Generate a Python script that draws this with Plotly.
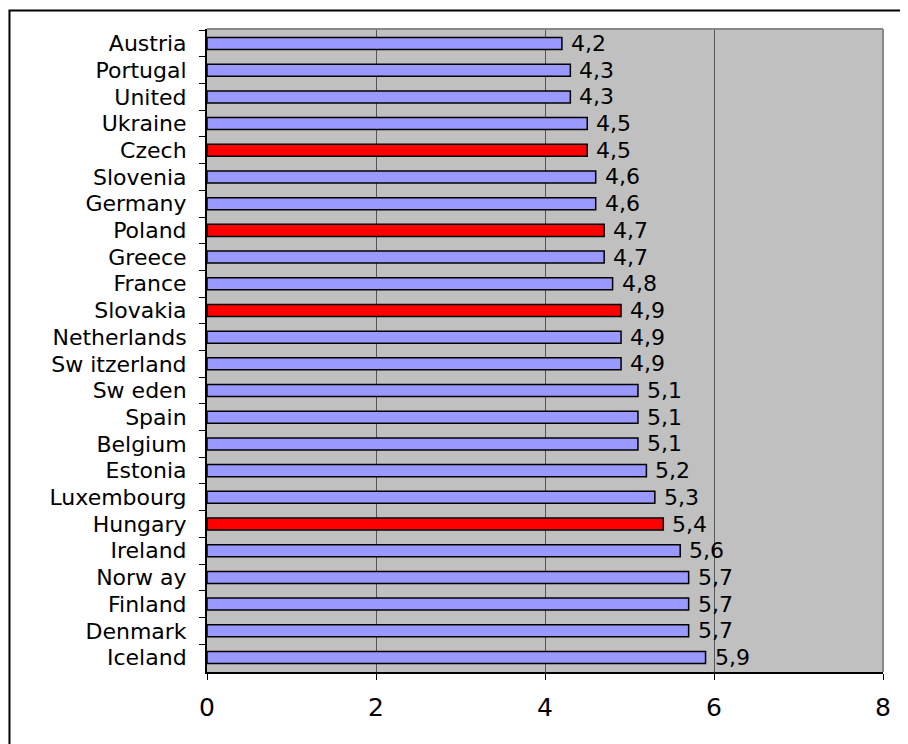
import plotly.graph_objects as go

countries = ["Austria", "Portugal", "United", "Ukraine", "Czech", "Slovenia", "Germany",
             "Poland", "Greece", "France", "Slovakia", "Netherlands", "Sw itzerland",
             "Sw eden", "Spain", "Belgium", "Estonia", "Luxembourg", "Hungary", "Ireland",
             "Norw ay", "Finland", "Denmark", "Iceland"]
values = [4.2, 4.3, 4.3, 4.5, 4.5, 4.6, 4.6, 4.7, 4.7, 4.8, 4.9, 4.9, 4.9,
          5.1, 5.1, 5.1, 5.2, 5.3, 5.4, 5.6, 5.7, 5.7, 5.7, 5.9]
highlighted = ["Czech", "Poland", "Slovakia", "Hungary"]
x_ticks = [0, 2, 4, 6, 8]

FONT = "DejaVu Sans"
colors = ["#FF0000" if c in highlighted else "#9999FF" for c in countries]
labels = [f"{v:.1f}".replace(".", ",") for v in values]

fig = go.Figure()
fig.add_trace(go.Bar(
    y=countries,
    x=values,
    orientation="h",
    width=0.45,
    marker=dict(color=colors, line=dict(color="black", width=1.5)),
    showlegend=False,
    hoverinfo="skip",
))

# valori a destra delle barre
for c, v, t in zip(countries, values, labels):
    fig.add_annotation(x=v, y=c, text=t, showarrow=False, xanchor="left",
                       xshift=7, font=dict(family=FONT, size=22, color="black"))

# bordo superiore e destro dell'area grafico (grigio)
fig.add_shape(type="line", xref="paper", yref="paper", x0=0, x1=1, y0=1, y1=1,
              line=dict(color="#888888", width=2), layer="above")
fig.add_shape(type="line", xref="paper", yref="paper", x0=1, x1=1, y0=0, y1=1,
              line=dict(color="#888888", width=2), layer="above")
# cornice esterna
fig.add_shape(type="rect", xref="paper", yref="paper", x0=-0.2922, x1=1.2,
              y0=-0.3, y1=1.0288, line=dict(color="black", width=2), layer="above")

fig.update_layout(
    width=900,
    height=736,
    paper_bgcolor="white",
    plot_bgcolor="#C0C0C0",
    margin=dict(l=199, r=25, t=21, b=72),
    font=dict(family=FONT, color="black"),
    xaxis=dict(
        range=[0, 8],
        tickvals=x_ticks,
        ticktext=[str(t) for t in x_ticks],
        showgrid=True,
        gridcolor="#555555",
        gridwidth=1,
        zeroline=False,
        showline=True,
        linecolor="black",
        linewidth=2,
        ticks="outside",
        ticklen=6,
        tickcolor="black",
        tickfont=dict(family=FONT, size=25, color="black"),
        ticklabelstandoff=6,
        fixedrange=True,
    ),
    yaxis=dict(
        categoryorder="array",
        categoryarray=countries,
        autorange="reversed",
        dtick=1,
        showgrid=False,
        showline=True,
        linecolor="black",
        linewidth=2,
        ticks="outside",
        tickson="boundaries",
        ticklen=6,
        tickcolor="black",
        tickfont=dict(family=FONT, size=22, color="black"),
        ticklabelstandoff=14,
        fixedrange=True,
    ),
)

fig.write_html("out.html")
